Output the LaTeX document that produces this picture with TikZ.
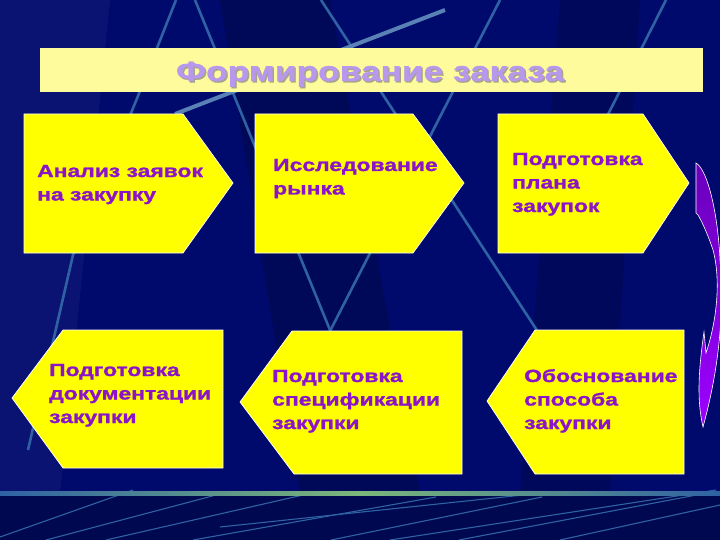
\documentclass[tikz,border=0pt]{standalone}
\usepackage{fontspec}
\newfontfamily\boxfont{Liberation Sans Bold}[FakeStretch=1.3, FakeBold=1.4]
\newfontfamily\titlefont{Liberation Sans Bold}[FakeStretch=1.26, FakeBold=1.0]
\definecolor{bgnavy}{HTML}{000A6C}
\definecolor{bgdark}{HTML}{00084F}
\definecolor{bgline}{HTML}{2F62A4}
\definecolor{boxyellow}{HTML}{FFFF00}
\definecolor{boxtext}{HTML}{8C14C8}
\definecolor{titlebar}{HTML}{FDFB9C}
\definecolor{titletext}{HTML}{B898EC}
\definecolor{titleshadow}{HTML}{A4A488}
\definecolor{arrowtop}{HTML}{6A00BC}
\definecolor{arrowbot}{HTML}{9C00FF}
\tikzset{
  stepbox/.style={fill=boxyellow, draw=white, line width=0.7pt, line join=miter},
  boxlabel/.style={text=boxtext, font=\boxfont\fontsize{17.6}{23.5}\selectfont, align=left, inner sep=0pt, anchor=base west},
  bgstroke/.style={draw=bgline, line width=2.6pt},
  lowstroke/.style={draw=bgline, line width=1.1pt},
}
\begin{document}
\begin{tikzpicture}[x=1pt,y=-1pt]
\useasboundingbox (0,0) rectangle (720,540);
% background
\fill[bgnavy] (0,0) rectangle (720,540);
\fill[black, opacity=0.18] (220,0) -- (330,0) -- (420,493) -- (300,493) -- cycle;
\fill[black, opacity=0.15] (560,0) -- (640,0) -- (610,493) -- (520,493) -- cycle;
\fill[white, opacity=0.04] (0,0) -- (110,0) -- (60,493) -- (0,493) -- cycle;
\fill[bgdark] (0,493) rectangle (720,540);
% decorative lines
\draw[bgstroke] (195,0) -- (330,330);
\draw[bgstroke] (321,0) -- (540,335);
\draw[bgstroke] (500,0) -- (328,335);
\draw[bgstroke] (176,0) -- (138,96) -- (73,255) -- (28,450);
\draw[bgstroke] (666,0) -- (590,150);
\draw[draw=bgline!80!white, line width=4pt] (445,10) -- (175,114);
\draw[lowstroke] (0,537) -- (133,490);
\draw[lowstroke] (46,540) -- (216,495);
\draw[lowstroke] (106,540) -- (303,495);
\draw[lowstroke] (193,540) -- (436,497);
\draw[lowstroke] (220,527) -- (542,493);
\draw[lowstroke] (331,540) -- (542,497);
\draw[lowstroke] (390,540) -- (716,490);
\draw[lowstroke] (459,540) -- (707,493);
\draw[lowstroke] (560,540) -- (720,505);
\shade[left color=bgline, right color=bgline, middle color=green!30!gray!80!white] (0,491.5) rectangle (720,495);
% title bar
\fill[titlebar] (40,48) rectangle (703,92);
\node[text=titleshadow, font=\titlefont\fontsize{28}{30}\selectfont, inner sep=0pt, anchor=base] (titleshade) at (371.4,82.4) {Формирование заказа};
\node[text=titletext, font=\titlefont\fontsize{28}{30}\selectfont, inner sep=0pt, anchor=base] (title) at (370,81) {Формирование заказа};
% top row
\draw[stepbox] (24,114) -- (183,114) -- (233,183) -- (183,253) -- (24,253) -- cycle;
\draw[stepbox] (255,114) -- (413,114) -- (464,183) -- (413,253) -- (255,253) -- cycle;
\draw[stepbox] (498,114) -- (643,114) -- (689,183) -- (643,253) -- (498,253) -- cycle;
% bottom row
\draw[stepbox] (12,398) -- (63,330) -- (223,330) -- (223,468) -- (63,468) -- cycle;
\draw[stepbox] (240,402) -- (292,331) -- (462,331) -- (462,474) -- (294,474) -- cycle;
\draw[stepbox] (487,401) -- (535,330) -- (684,330) -- (684,474) -- (535,474) -- cycle;
% labels (anchor = baseline of last line)
\node[boxlabel] (t1) at (37,200.5) {Анализ заявок\\на закупку};
\node[boxlabel] (t2) at (273,194.5) {Исследование\\рынка};
\node[boxlabel] (t3) at (512,212) {Подготовка\\плана\\закупок};
\node[boxlabel] (t4) at (49,423) {Подготовка\\документации\\закупки};
\node[boxlabel] (t5) at (272,429) {Подготовка\\спецификации\\закупки};
\node[boxlabel] (t6) at (524,429) {Обоснование\\способа\\закупки};
% curved arrow
\path[draw=white, line width=0.6pt, top color=arrowtop, bottom color=arrowbot]
  (696,163) .. controls (708,170) and (718,215) .. (720,260)
  .. controls (724,310) and (720,365) .. (703,427)
  .. controls (698,405) and (697,380) .. (704,332)
  -- (706,353)
  .. controls (717,320) and (721,280) .. (713,250)
  .. controls (707,232) and (701,220) .. (698,215)
  -- (696,213) -- cycle;
\end{tikzpicture}
\end{document}
